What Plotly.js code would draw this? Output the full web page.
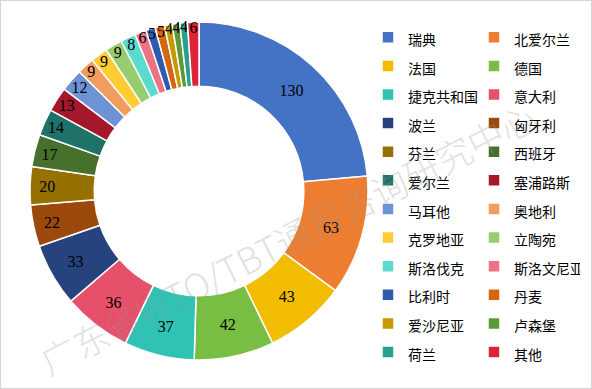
<!DOCTYPE html>
<html>
<head>
<meta charset="utf-8">
<script src="https://cdn.plot.ly/plotly-3.0.1.min.js"></script>
<style>
  html, body { margin: 0; padding: 0; background: #fff; }
  #chart { width: 590px; height: 387px; border: 1px solid #d4d4d4; }
</style>
</head>
<body>
<div id="chart"></div>
<script>
// Data
const countries = ["瑞典","北爱尔兰","法国","德国","捷克共和国","意大利","波兰","匈牙利",
  "芬兰","西班牙","爱尔兰","塞浦路斯","马耳他","奥地利","克罗地亚","立陶宛",
  "斯洛伐克","斯洛文尼亚","比利时","丹麦","爱沙尼亚","卢森堡","荷兰","其他"];
const counts = [130,63,43,42,37,36,33,22,20,17,14,13,12,9,9,9,8,6,5,5,4,4,4,6];
const sliceColors = ["#4472C4","#ED7D31","#F2BC00","#78BE43","#30C2B5","#E6506A","#26437E","#9C4A0C",
  "#967000","#46702C","#1F7267","#A4182C","#6E92D6","#F29C5E","#FFCC33","#97CC6F",
  "#5ADBCE","#EC7385","#2E5BAE","#D5660F","#C49A00","#5C9A38","#28A090","#DC2338"];
const watermark = "广东省WTO/TBT通报咨询研究中心";

const legendLabels = countries.map(c => '<span style="font-size:14px">' + c + '</span>');

const trace = {
  type: 'pie',
  labels: legendLabels,
  values: counts,
  sort: false,
  direction: 'clockwise',
  rotation: 0,
  hole: 0.62,
  domain: { x: [0, 1], y: [0.0223, 0.9638] },
  marker: { colors: sliceColors, line: { color: '#ffffff', width: 1.5 } },
  texttemplate: '%{value}',
  textposition: 'inside',
  insidetextorientation: 'horizontal',
  textfont: { family: 'Liberation Serif, serif', size: 16, color: '#000000' },
  hoverinfo: 'label+value'
};

const layout = {
  width: 590, height: 387,
  margin: { l: 29, r: 223, t: 8, b: 20, autoexpand: false },
  paper_bgcolor: '#ffffff',
  showlegend: true,
  uniformtext: { minsize: 16, mode: 'show' },
  legend: {
    orientation: 'h',
    x: 1.0, xanchor: 'left',
    y: 0.975, yanchor: 'top',
    entrywidth: 61,
    maxheight: 380,
    bgcolor: 'rgba(0,0,0,0)',
    font: { family: 'Noto Sans CJK SC, sans-serif', size: 19.7, color: '#000000' },
    traceorder: 'normal'
  },
  annotations: [{
    xref: 'paper', yref: 'paper',
    x: 0.763, y: 0.365,
    xanchor: 'center', yanchor: 'middle',
    text: watermark,
    showarrow: false,
    textangle: -27,
    font: { family: 'Noto Sans CJK SC, sans-serif', size: 36, weight: 300, color: 'rgba(150,150,150,0.3)' }
  }]
};

Plotly.newPlot('chart', [trace], layout, { displayModeBar: false, staticPlot: true });
</script>
</body>
</html>
